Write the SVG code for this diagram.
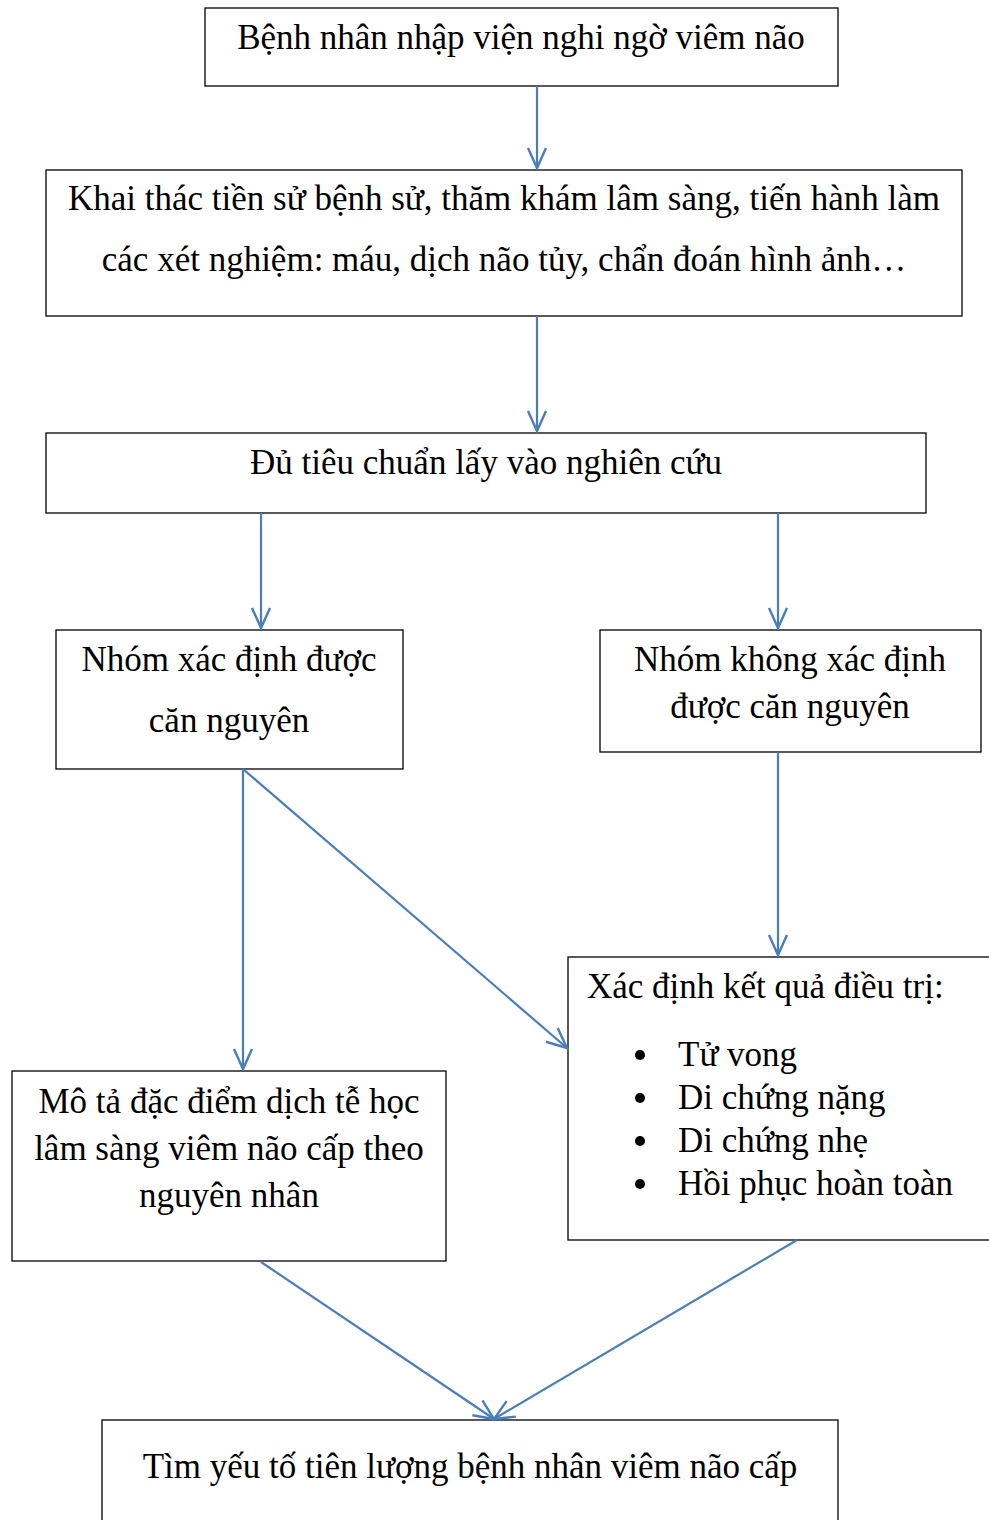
<svg xmlns="http://www.w3.org/2000/svg" width="989" height="1520" viewBox="0 0 989 1520">
<style>
.box{fill:#fff;stroke:#000;stroke-width:1.3}
.t{font-family:"Liberation Serif","Times New Roman",serif;font-size:35px;fill:#000}
.m{text-anchor:middle}
.c{stroke:#4a7ebb;stroke-width:2.2;fill:none;marker-end:url(#a)}
</style>
<defs>
<marker id="a" markerUnits="userSpaceOnUse" markerWidth="26" markerHeight="26" refX="22" refY="11" orient="auto" viewBox="0 0 26 22">
<path d="M2,2 L22,11 L2,20" fill="none" stroke="#4a7ebb" stroke-width="2.4"/>
</marker>
</defs>
<rect width="989" height="1520" fill="#fff"/>
<g id="n1"><rect class="box" x="205" y="8" width="633" height="78"/><text class="t m" x="521" y="49">Bệnh nhân nhập viện nghi ngờ viêm não</text></g>
<g id="n2"><rect class="box" x="46" y="170" width="916" height="146"/><text class="t m" x="504" y="210">Khai thác tiền sử bệnh sử, thăm khám lâm sàng, tiến hành làm</text><text class="t m" x="504" y="271">các xét nghiệm: máu, dịch não tủy, chẩn đoán hình ảnh…</text></g>
<g id="n3"><rect class="box" x="46" y="433" width="880" height="80"/><text class="t m" x="486" y="474">Đủ tiêu chuẩn lấy vào nghiên cứu</text></g>
<g id="n4"><rect class="box" x="56" y="630" width="347" height="139"/><text class="t m" x="229" y="671">Nhóm xác định được</text><text class="t m" x="229" y="732">căn nguyên</text></g>
<g id="n5"><rect class="box" x="600" y="630" width="381" height="122"/><text class="t m" x="790" y="671">Nhóm không xác định</text><text class="t m" x="790" y="718">được căn nguyên</text></g>
<g id="n6"><rect class="box" x="568" y="957" width="440" height="283"/><text class="t" x="587" y="998">Xác định kết quả điều trị:</text>
<circle cx="640" cy="1055" r="5"/><text class="t" x="678" y="1066">Tử vong</text>
<circle cx="640" cy="1098" r="5"/><text class="t" x="678" y="1109">Di chứng nặng</text>
<circle cx="640" cy="1141" r="5"/><text class="t" x="678" y="1152">Di chứng nhẹ</text>
<circle cx="640" cy="1184" r="5"/><text class="t" x="678" y="1195">Hồi phục hoàn toàn</text></g>
<g id="n7"><rect class="box" x="12" y="1071" width="434" height="190"/><text class="t m" x="229" y="1113">Mô tả đặc điểm dịch tễ học</text><text class="t m" x="229" y="1160">lâm sàng viêm não cấp theo</text><text class="t m" x="229" y="1207">nguyên nhân</text></g>
<g id="n8"><rect class="box" x="102" y="1420" width="736" height="120"/><text class="t m" x="470" y="1478">Tìm yếu tố tiên lượng bệnh nhân viêm não cấp</text></g>
<g id="connectors">
<line class="c" x1="537" y1="86" x2="537" y2="168"/>
<line class="c" x1="537" y1="316" x2="537" y2="431"/>
<line class="c" x1="261" y1="513" x2="261" y2="628"/>
<line class="c" x1="778" y1="513" x2="778" y2="628"/>
<line class="c" x1="778" y1="752" x2="778" y2="955"/>
<line class="c" x1="243" y1="769" x2="243" y2="1069"/>
<line class="c" x1="243" y1="769" x2="567" y2="1048"/>
<line class="c" x1="261" y1="1262" x2="494" y2="1419"/>
<line class="c" x1="797" y1="1240" x2="494" y2="1419"/>
</g>
</svg>
